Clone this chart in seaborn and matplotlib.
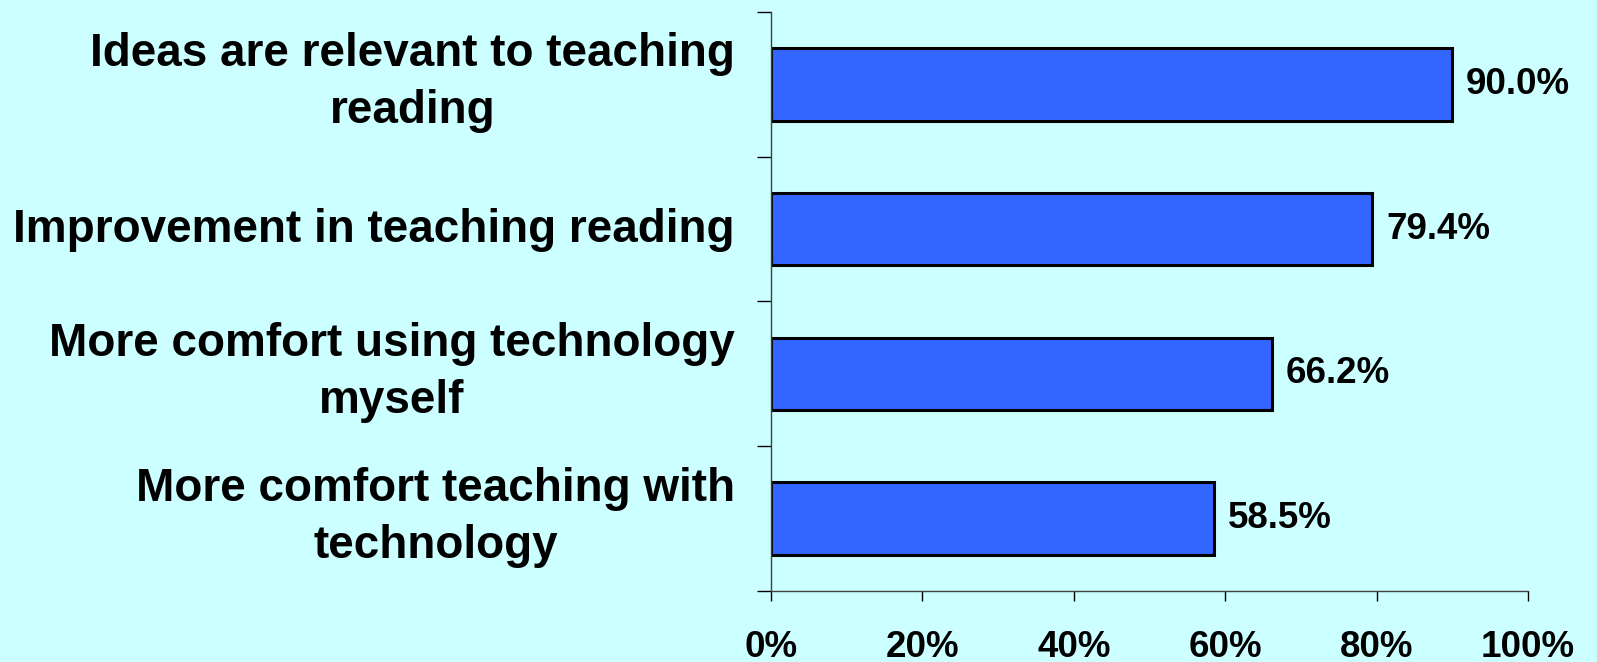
import numpy as np
import pandas as pd
import matplotlib
matplotlib.use("Agg")
import matplotlib.pyplot as plt
import matplotlib.transforms as mtrans
import seaborn as sns

# data
categories = ["Ideas are relevant to teaching\nreading",
              "Improvement in teaching reading",
              "More comfort using technology\nmyself",
              "More comfort teaching with\ntechnology"]
percent = [90.0, 79.4, 66.2, 58.5]
x_ticks = [0, 20, 40, 60, 80, 100]

df = pd.DataFrame({"item": categories, "pct": percent})

sns.set_style("white")
plt.rcParams['font.family'] = ['Liberation Sans', 'DejaVu Sans']
plt.rcParams['font.weight'] = 'bold'
plt.rcParams['text.color'] = 'black'
plt.rcParams['xtick.color'] = 'black'
plt.rcParams['ytick.color'] = 'black'

bg = "#CCFFFF"
fig = plt.figure(figsize=(15.97, 6.62), dpi=100, facecolor=bg)
ax = fig.add_axes([0.4828, 0.1073, 0.4740, 0.8746])
ax.set_facecolor(bg)

sns.barplot(data=df, x="pct", y="item", orient="h", color="#3366FF",
            saturation=1, width=0.5, edgecolor="black", linewidth=2.2, ax=ax)

ax.set_xlim(0, 100)
ax.set_ylim(3.5, -0.5)
ax.set_xticks(x_ticks)
ax.set_xticklabels([f"{t}%" for t in x_ticks], fontsize=26.5, fontweight='bold', color='black')
ax.set_xlabel("")
ax.set_ylabel("")

ax.set_yticks(np.arange(-0.5, 4.0, 1.0), minor=True)
ax.tick_params(axis='y', which='major', length=0, pad=26, left=True)
ax.tick_params(axis='y', which='minor', left=True, length=10, width=1,
               color='black', direction='out')
ax.tick_params(axis='x', bottom=True, length=7.2, width=1, color='black',
               direction='out', pad=21)

ax.bar_label(ax.containers[0], labels=[f"{v:.1f}%" for v in percent],
             padding=10, fontsize=26.5, fontweight='bold', color='black')

sns.despine(ax=ax, top=True, right=True)
for s in ["left", "bottom"]:
    ax.spines[s].set_color("#404040")
    ax.spines[s].set_linewidth(1.0)

# category labels: centred lines, nudged up a little like the original
for lab in ax.get_yticklabels():
    lab.set_fontsize(33)
    lab.set_fontweight('bold')
    lab.set_color('black')
    lab.set_multialignment('center')
    lab.set_linespacing(1.38)
    up = 13 if "\n" in lab.get_text() else 4
    lab.set_transform(lab.get_transform() +
                      mtrans.ScaledTranslation(0, up / 100, fig.dpi_scale_trans))

fig.savefig("out.png", dpi=100, facecolor=bg)
